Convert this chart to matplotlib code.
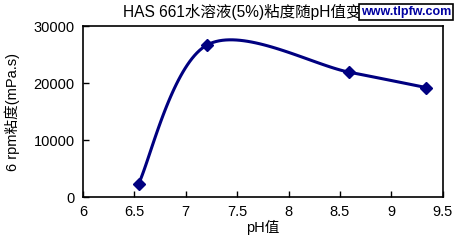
import numpy as np
from matplotlib import pyplot as plt

plt.rcParams['font.family'] = ['Liberation Sans', 'Noto Sans CJK SC', 'DejaVu Sans']

# data
ph = [6.54, 7.21, 8.59, 9.34]
viscosity = [2300, 26700, 21900, 19200]
x_ticks = [6, 6.5, 7, 7.5, 8, 8.5, 9, 9.5]
y_ticks = [0, 10000, 20000, 30000]

navy = '#000080'


def smooth(xs, ys, n=40):
    # Excel-like smoothed line: Catmull-Rom bezier between points
    p = np.column_stack([xs, ys]).astype(float)
    pts = np.vstack([p[0], p, p[-1]])
    out = []
    t = np.linspace(0, 1, n)[:, None]
    for i in range(1, len(pts) - 2):
        p0, p1, p2, p3 = pts[i - 1], pts[i], pts[i + 1], pts[i + 2]
        c1 = p1 + (p2 - p0) / 6
        c2 = p2 - (p3 - p1) / 6
        seg = ((1 - t) ** 3) * p1 + 3 * ((1 - t) ** 2) * t * c1 + 3 * (1 - t) * t ** 2 * c2 + t ** 3 * p2
        out.append(seg)
    out = np.vstack(out)
    return out[:, 0], out[:, 1]


fig = plt.figure(figsize=(4.56, 2.43), dpi=100)
ax = fig.add_axes([0.182, 0.189, 0.789, 0.704])

sx, sy = smooth(ph, viscosity)
ax.plot(sx, sy, color=navy, lw=2.2, solid_capstyle='round')
ax.plot(ph, viscosity, linestyle='none', marker='D', ms=6, color=navy)

ax.set_xlim(6, 9.5)
ax.set_ylim(0, 30000)
ax.set_xticks(x_ticks)
ax.set_xticklabels([f'{v:g}' for v in x_ticks])
ax.set_yticks(y_ticks)
ax.tick_params(direction='in', length=4, width=1, labelsize=10.5, colors='black', pad=6)
for s in ax.spines.values():
    s.set_linewidth(1.2)

ax.set_xlabel('pH值', fontsize=10.5, labelpad=0)
ax.set_ylabel('6 rpm粘度(mPa.s)', fontsize=10.5, labelpad=10)
fig.text(0.27, 0.952, 'HAS 661水溶液(5%)粘度随pH值变化曲线', ha='left', va='center',
         fontsize=11.2, zorder=1)

# watermark box sits over the end of the title, as in the source image
fig.text(0.891, 0.95, 'www.tlpfw.com', ha='center', va='center', fontsize=9,
         fontweight='bold', color='#0000a0', zorder=5,
         bbox=dict(boxstyle='square,pad=0.15', fc='white', ec='black', lw=1.2))

fig.savefig('out.png', dpi=100)
